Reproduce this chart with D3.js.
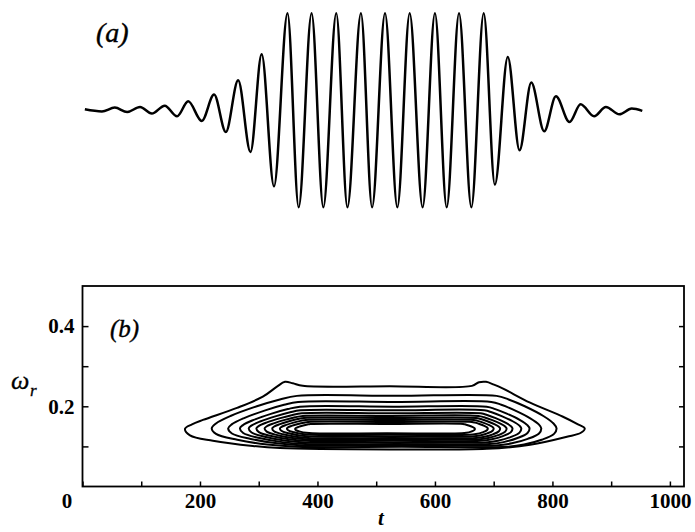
<!DOCTYPE html>
<html>
<head>
<meta charset="utf-8">
<script src="https://cdn.jsdelivr.net/npm/d3@7"></script>
<style>
  body { margin: 0; background: #fff; }
  svg { display: block; }
  text { font-family: "Liberation Serif", "Times New Roman", serif; fill: #000; }
</style>
</head>
<body>
<svg id="chart" width="695" height="532"></svg>
<script>
// ---- (a) signal: successive extrema of the wave packet (time, signed amplitude)
const waveT = [4, 33, 55, 76, 98, 118, 140, 161, 180, 203, 224, 244, 265, 286, 305, 326,
               349, 368, 390, 410, 432, 451, 474, 493, 515, 536, 557, 579, 600, 620, 641, 662, 683,
               702, 724, 744, 764, 786, 806, 829, 848, 871, 891, 914, 935, 953];
const waveA = [0.01, -0.012, 0.028, -0.018, 0.034, -0.034, 0.048, -0.062, 0.093, -0.11, 0.162, -0.224, 0.309, -0.43, 0.577, -0.784,
               1, -1, 1, -1, 1, -1, 1, -1, 1, -1, 1, -1, 1, -1, 1, -1, 1,
               -0.766, 0.549, -0.412, 0.286, -0.216, 0.144, -0.121, 0.062, -0.062, 0.034, -0.041, 0.018, -0.006];

// ---- (b) time-frequency contours
// outermost level, traced as (t, omega_r) vertices
const outerContour = [
  [174.5, 0.144], [186.4, 0.155], [205, 0.166], [263, 0.196], [307, 0.224], [331, 0.249],
  [344.7, 0.261], [358, 0.2575], [375, 0.251], [523, 0.25], [663, 0.251], [675, 0.26],
  [687, 0.261], [700.5, 0.254], [716, 0.244], [762, 0.209], [818, 0.174], [843.5, 0.155],
  [855, 0.145], [848.5, 0.134], [824.7, 0.124], [762, 0.104], [688.5, 0.094], [523, 0.0925],
  [336, 0.096], [290, 0.101], [222, 0.114], [183, 0.1275]
];
// inner levels: extent in t, tip frequency, top / bottom plateaus and shoulder times
const innerLeft      = [220, 248, 268, 283, 296, 310, 323, 336, 348, 362];
const innerRight     = [807, 781, 761, 747, 732, 722, 711, 700, 690, 668];
const innerTip       = [0.145, 0.145, 0.145, 0.145, 0.145, 0.145, 0.145, 0.145, 0.145, 0.144];
const innerTop       = [0.226, 0.211, 0.199, 0.19, 0.1825, 0.176, 0.171, 0.166, 0.161, 0.156];
const innerBottom    = [0.099, 0.1025, 0.106, 0.11, 0.114, 0.1175, 0.121, 0.125, 0.129, 0.1325];
const shoulderUL     = [365, 367, 370, 371, 373, 375, 377, 380, 384, 388];
const shoulderLL     = [365, 376, 379, 380, 381, 383, 384, 387, 389, 391];
const shoulderUR     = [705, 696, 688, 684, 678, 674, 670, 666, 663, 648];
const shoulderLR     = [722, 704, 693, 686, 678, 674, 670, 664, 659, 646];

// ---- axes
const tTicks = [0, 100, 200, 300, 400, 500, 600, 700, 800, 900, 1000];
const tLabels = [0, 200, 400, 600, 800, 1000];
const wTicks = [0.1, 0.2, 0.3, 0.4];
const wLabels = [0.2, 0.4];

const svg = d3.select("#chart");

const x = d3.scaleLinear().domain([0, 1024]).range([82.5, 684]);
const yb = d3.scaleLinear().domain([0, 0.5]).range([486.5, 286]);
const ya = d3.scaleLinear().domain([-1, 1]).range([207.3, 13.3]);

// panel (a): wave through its extrema
const wave = waveT.map((t, i) => [t, waveA[i]]);
svg.append("path")
  .datum(wave)
  .attr("fill", "none")
  .attr("stroke", "#000")
  .attr("stroke-width", 2.5)
  .attr("stroke-linejoin", "round")
  .attr("d", d3.line().x(d => x(d[0])).y(d => ya(d[1])).curve(d3.curveMonotoneX));

svg.append("text")
  .attr("x", 96).attr("y", 42)
  .attr("font-size", 28).attr("font-style", "italic")
  .attr("stroke", "#000").attr("stroke-width", 0.4)
  .text("(a)");

// panel (b)
const contourLine = d3.line()
  .x(d => x(d[0])).y(d => yb(d[1]))
  .curve(d3.curveCatmullRomClosed.alpha(0.5));

// edge profiles between a tip and its plateau (fraction along t, fraction toward plateau)
const upperProfile = [[0.05, 0.15], [0.22, 0.38], [0.53, 0.68], [0.8, 0.89]];
const lowerProfile = [[0.05, 0.3], [0.3, 0.62], [0.65, 0.88]];

function innerOutline(i) {
  const tL = innerLeft[i], tR = innerRight[i], m = innerTip[i];
  const top = innerTop[i], bot = innerBottom[i];
  const uL = shoulderUL[i], lL = shoulderLL[i], uR = shoulderUR[i], lR = shoulderLR[i];
  const pts = [[tL, m]];
  upperProfile.forEach(([fx, fy]) => pts.push([tL + fx * (uL - tL), m + fy * (top - m)]));
  pts.push([uL, top], [(uL + uR) / 2, top], [uR, top]);
  upperProfile.slice().reverse().forEach(([fx, fy]) => pts.push([tR - fx * (tR - uR), m + fy * (top - m)]));
  pts.push([tR, m]);
  lowerProfile.forEach(([fx, fy]) => pts.push([tR - fx * (tR - lR), m - fy * (m - bot)]));
  pts.push([lR, bot], [(lR + lL) / 2, bot], [lL, bot]);
  lowerProfile.slice().reverse().forEach(([fx, fy]) => pts.push([tL + fx * (lL - tL), m - fy * (m - bot)]));
  return pts;
}

const contours = [outerContour].concat(innerLeft.map((_, i) => innerOutline(i)));

svg.append("g")
  .selectAll("path")
  .data(contours)
  .join("path")
  .attr("fill", "none")
  .attr("stroke", "#000")
  .attr("stroke-width", 2)
  .attr("d", contourLine);

// frame
svg.append("rect")
  .attr("x", x(0)).attr("y", yb(0.5))
  .attr("width", x(1024) - x(0)).attr("height", yb(0) - yb(0.5))
  .attr("fill", "none").attr("stroke", "#000").attr("stroke-width", 1.8);

const fmtT = d => tLabels.includes(d) ? String(d) : "";
const fmtW = d => wLabels.includes(d) ? d.toFixed(1) : "";

const gx = svg.append("g")
  .attr("transform", `translate(0,${yb(0)})`)
  .call(d3.axisBottom(x).tickValues(tTicks).tickFormat(fmtT).tickSizeInner(-5).tickSizeOuter(0).tickPadding(7));
gx.select(".domain").remove();
gx.selectAll("text").attr("font-size", 21).attr("font-family", null).attr("font-weight", "bold")
  .attr("dx", d => d === 0 ? -16 : 0);

const gy = svg.append("g")
  .attr("transform", `translate(${x(0)},0)`)
  .call(d3.axisLeft(yb).tickValues(wTicks).tickFormat(fmtW).tickSizeInner(-6).tickSizeOuter(0).tickPadding(8));
gy.select(".domain").remove();
gy.selectAll("text").attr("font-size", 21).attr("font-family", null).attr("font-weight", "bold");

const gr = svg.append("g")
  .attr("transform", `translate(${x(1024)},0)`)
  .call(d3.axisRight(yb).tickValues(wTicks).tickFormat("").tickSizeInner(-5).tickSizeOuter(0));
gr.select(".domain").remove();

svg.selectAll(".tick line").attr("stroke", "#000").attr("stroke-width", 1.5);

svg.append("text")
  .attr("x", 110).attr("y", 337)
  .attr("font-size", 25).attr("font-style", "italic")
  .attr("stroke", "#000").attr("stroke-width", 0.4)
  .text("(b)");

// axis titles
svg.append("text")
  .attr("x", 11).attr("y", 389)
  .attr("font-size", 26).attr("font-style", "italic")
  .attr("stroke", "#000").attr("stroke-width", 0.3)
  .text("ω");
svg.append("text")
  .attr("x", 30).attr("y", 396)
  .attr("font-size", 17).attr("font-style", "italic")
  .attr("stroke", "#000").attr("stroke-width", 0.3)
  .text("r");
svg.append("text")
  .attr("x", 378).attr("y", 525)
  .attr("font-size", 21).attr("font-style", "italic").attr("font-weight", "bold")
  .text("t");
</script>
</body>
</html>
